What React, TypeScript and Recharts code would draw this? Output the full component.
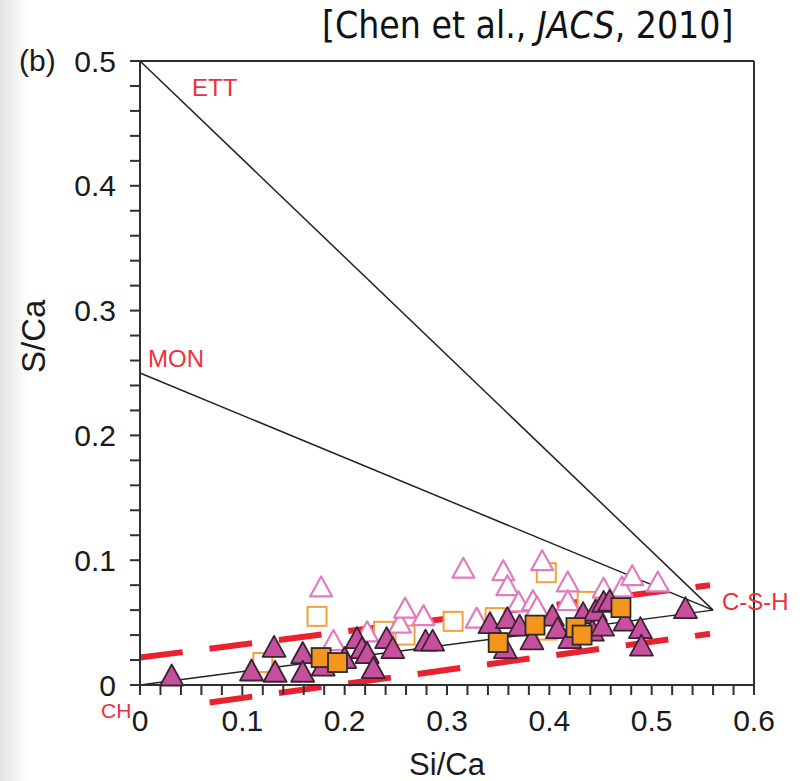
import {
  ReferenceLine,
  Scatter,
  ScatterChart,
  XAxis,
  YAxis,
} from "recharts";

// tick positions (minor every 0.02, labels only on the 0.1 marks)
const X_TICKS = [
  0, 0.02, 0.04, 0.06, 0.08, 0.1, 0.12, 0.14, 0.16, 0.18, 0.2, 0.22, 0.24, 0.26,
  0.28, 0.3, 0.32, 0.34, 0.36, 0.38, 0.4, 0.42, 0.44, 0.46, 0.48, 0.5, 0.52,
  0.54, 0.56, 0.58, 0.6,
];
const Y_TICKS = [
  0, 0.02, 0.04, 0.06, 0.08, 0.1, 0.12, 0.14, 0.16, 0.18, 0.2, 0.22, 0.24, 0.26,
  0.28, 0.3, 0.32, 0.34, 0.36, 0.38, 0.4, 0.42, 0.44, 0.46, 0.48, 0.5,
];

// [Si/Ca, S/Ca]
const filledTriangles: [number, number][] = [
  [0.031, 0.008], [0.109, 0.012], [0.131, 0.031], [0.132, 0.011],
  [0.159, 0.026], [0.159, 0.011], [0.179, 0.016], [0.2, 0.022],
  [0.212, 0.038], [0.217, 0.03], [0.222, 0.026], [0.228, 0.014],
  [0.241, 0.038], [0.247, 0.03], [0.279, 0.036], [0.286, 0.036],
  [0.342, 0.05], [0.357, 0.03], [0.359, 0.054], [0.371, 0.048],
  [0.383, 0.037], [0.403, 0.056], [0.408, 0.046], [0.42, 0.038],
  [0.433, 0.058], [0.442, 0.044], [0.445, 0.06], [0.452, 0.048],
  [0.453, 0.067], [0.459, 0.068], [0.474, 0.052], [0.489, 0.046],
  [0.49, 0.032], [0.533, 0.062],
];
const hollowTriangles: [number, number][] = [
  [0.177, 0.079], [0.189, 0.036], [0.222, 0.043], [0.254, 0.05],
  [0.259, 0.062], [0.277, 0.056], [0.316, 0.094], [0.329, 0.054],
  [0.355, 0.092], [0.359, 0.08], [0.37, 0.067], [0.384, 0.068],
  [0.388, 0.063], [0.393, 0.1], [0.418, 0.083], [0.418, 0.068],
  [0.453, 0.078], [0.471, 0.079], [0.481, 0.088], [0.506, 0.083],
];
const filledSquares: [number, number][] = [
  [0.177, 0.022], [0.193, 0.018], [0.35, 0.034], [0.386, 0.048],
  [0.426, 0.046], [0.432, 0.04], [0.47, 0.062],
];
const hollowSquares: [number, number][] = [
  [0.12, 0.018], [0.173, 0.055], [0.238, 0.043], [0.259, 0.04],
  [0.306, 0.051], [0.347, 0.054], [0.397, 0.09], [0.398, 0.044],
  [0.437, 0.067],
];

// phase lines, from the pure phases to C-S-H
const ETT_LINE = [{ x: 0, y: 0.5 }, { x: 0.56, y: 0.06 }];
const MON_LINE = [{ x: 0, y: 0.25 }, { x: 0.56, y: 0.06 }];
const CH_LINE = [{ x: 0, y: 0 }, { x: 0.56, y: 0.06 }];
const UPPER_BOUND = [{ x: 0, y: 0.022 }, { x: 0.557, y: 0.08 }];
const LOWER_BOUND = [{ x: 0.068, y: -0.014 }, { x: 0.557, y: 0.041 }];

const toPoints = (rows: [number, number][]) => rows.map(([x, y]) => ({ x, y }));

const AXIS_COLOR = "#2f2f2f";
const RED = "#e8232f";
const LABEL_RED = "#ee3040";
const FONT = "'Liberation Sans', Arial, sans-serif";

function tickLabel(v: number) {
  const t = v * 10;
  if (Math.abs(t - Math.round(t)) > 1e-6) return "";
  return v === 0 ? "0" : v.toFixed(1);
}

function triangle(cx: number, cy: number, w: number, h: number) {
  return `M${cx},${cy - h / 2}L${cx + w / 2},${cy + h / 2}L${cx - w / 2},${cy + h / 2}Z`;
}

const FilledTriangle = (p: any) => (
  <path d={triangle(p.cx, p.cy, 23, 21)} fill="#c6509d" stroke="#3a2232" strokeWidth={1.8} strokeLinejoin="round" />
);
const HollowTriangle = (p: any) => (
  <path d={triangle(p.cx, p.cy, 22, 20)} fill="#fff" stroke="#e07cbf" strokeWidth={2.2} strokeLinejoin="round" />
);
const FilledSquare = (p: any) => (
  <rect x={p.cx - 9.5} y={p.cy - 9.5} width={19} height={19} fill="#f4951d" stroke="#2b2b2b" strokeWidth={1.8} />
);
const HollowSquare = (p: any) => (
  <rect x={p.cx - 9.5} y={p.cy - 9.5} width={19} height={19} fill="#fff" stroke="#f5a03a" strokeWidth={2} />
);

const labelStyle = (left: number, top: number, size: number, color: string): React.CSSProperties => ({
  position: "absolute",
  left,
  top,
  fontFamily: FONT,
  fontSize: size,
  color,
  lineHeight: 1,
  whiteSpace: "nowrap",
});

export default function App() {
  const tick = { fill: "#1a1a1a", fontSize: 30, fontFamily: FONT };
  return (
    <div style={{ position: "absolute", left: 0, top: 0, width: 807, height: 781, background: "#fff", overflow: "hidden" }}>
      <div
        style={{
          position: "absolute",
          left: 0,
          top: 0,
          width: 28,
          height: 781,
          background: "linear-gradient(to right, #e3e3e3, #ffffff)",
        }}
      />
      <ScatterChart width={807} height={781} margin={{ top: 61, right: 53, bottom: 36, left: 60 }}>
        <XAxis
          type="number"
          dataKey="x"
          domain={[0, 0.6]}
          ticks={X_TICKS}
          interval={0}
          tickFormatter={tickLabel}
          tick={tick}
          tickSize={10}
          tickMargin={15}
          height={60}
          stroke={AXIS_COLOR}
          strokeWidth={2}
          label={{ value: "Si/Ca", position: "insideBottom", offset: -30, fill: "#1a1a1a", fontSize: 31, fontFamily: FONT }}
        />
        <YAxis
          type="number"
          dataKey="y"
          domain={[0, 0.5]}
          ticks={Y_TICKS}
          interval={0}
          tickFormatter={tickLabel}
          tick={tick}
          tickSize={10}
          tickMargin={14}
          width={80}
          stroke={AXIS_COLOR}
          strokeWidth={2}
          label={{ value: "S/Ca", angle: -90, position: "insideLeft", offset: -27, fill: "#1a1a1a", fontSize: 33, fontFamily: FONT }}
        />
        <ReferenceLine y={0.5} stroke={AXIS_COLOR} strokeWidth={2} />
        <ReferenceLine x={0.6} stroke={AXIS_COLOR} strokeWidth={2} />
        <ReferenceLine segment={ETT_LINE} stroke="#222" strokeWidth={1.5} ifOverflow="visible" />
        <ReferenceLine segment={MON_LINE} stroke="#222" strokeWidth={1.5} ifOverflow="visible" />
        <ReferenceLine segment={CH_LINE} stroke="#222" strokeWidth={1.5} ifOverflow="visible" />
        <ReferenceLine segment={UPPER_BOUND} stroke={RED} strokeWidth={6} strokeDasharray="43 27" ifOverflow="visible" />
        <ReferenceLine segment={LOWER_BOUND} stroke={RED} strokeWidth={6} strokeDasharray="43 27" ifOverflow="visible" />
        <Scatter data={toPoints(hollowSquares)} shape={HollowSquare} isAnimationActive={false} />
        <Scatter data={toPoints(hollowTriangles)} shape={HollowTriangle} isAnimationActive={false} />
        <Scatter data={toPoints(filledTriangles)} shape={FilledTriangle} isAnimationActive={false} />
        <Scatter data={toPoints(filledSquares)} shape={FilledSquare} isAnimationActive={false} />
      </ScatterChart>

      <div style={{ ...labelStyle(322, 7, 37, "#111"), fontFamily: "'DejaVu Sans Condensed', 'DejaVu Sans', sans-serif" }}>
        [Chen et al., <i>JACS</i>, 2010]
      </div>
      <div style={labelStyle(19, 46, 30, "#1a1a1a")}>(b)</div>
      <div style={labelStyle(192, 76, 24, LABEL_RED)}>ETT</div>
      <div style={labelStyle(148, 347, 24, LABEL_RED)}>MON</div>
      <div style={labelStyle(722, 590, 24, LABEL_RED)}>C-S-H</div>
      <div style={labelStyle(101, 700, 21, LABEL_RED)}>CH</div>
    </div>
  );
}
